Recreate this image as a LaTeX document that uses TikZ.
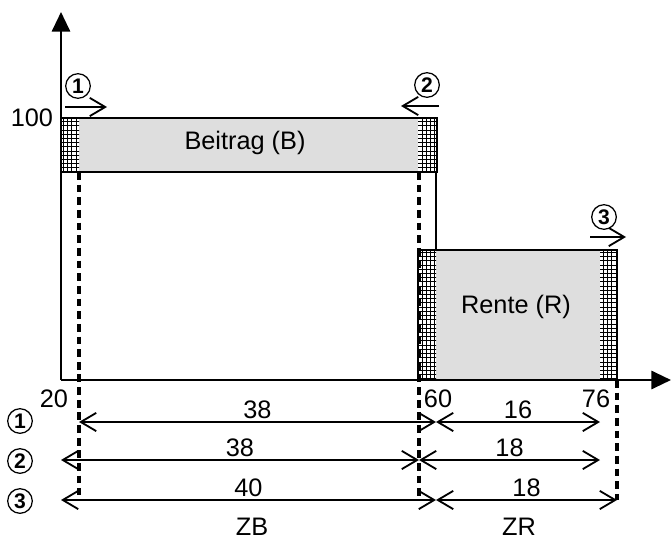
\documentclass[tikz,border=0pt]{standalone}
\usepackage{fontspec}
\setmainfont{Liberation Sans}
\usetikzlibrary{arrows.meta,patterns}

\begin{document}
\begin{tikzpicture}[x=0.025cm,y=-0.025cm,
  >={Straight Barb[length=11pt,width=13pt]},
  box/.style={line width=1.9pt},
  axis/.style={line width=1.6pt,-{Triangle[length=14pt,width=13pt]}},
  dim/.style={<->,line width=1.3pt},
  move/.style={->,line width=1.3pt},
  guide/.style={line width=2.2pt,dash pattern=on 5.5pt off 3.5pt},
  num/.style={circle,draw,line width=0.9pt,inner sep=0pt,minimum size=17.5pt,font=\bfseries\fontsize{15}{15}\selectfont},
  lbl/.style={font=\fontsize{18}{20}\selectfont}]
\useasboundingbox (0,0) rectangle (671,539);
\coordinate (o) at (61,380);
% marks on each dimension row
\foreach \r/\y in {1/422,2/460,3/500}{
  \foreach \n/\x in {a/61,b/79,c/419,d/436,e/600,f/617}
    \coordinate (\n\r) at (\x,\y);
}
% bars
\fill[black!13] (61,118) rectangle (437,172);
\fill[black!13] (418,250) rectangle (617,380);
\foreach \xa/\xb/\ya/\yb in {61/79/118/172,418/436/118/172,418/436/250/380,600/617/250/380}{
  \fill[white] (\xa,\ya) rectangle (\xb,\yb);
  \fill[pattern=grid] (\xa,\ya) rectangle (\xb,\yb);
}
\draw[guide] (79,172) -- (79,495);
\draw[guide] (419,172) -- (419,500);
\draw[guide] (617,380) -- (617,500);
\draw[box] (61,118) rectangle (437,172);
\draw[box] (436,172) -- (436,250);
\draw[box] (418,380) -- (418,250) -- (617,250) -- (617,380);
\node[lbl] (beitrag) at (245,143) {Beitrag (B)};
\node[lbl] (rente) at (516,307) {Rente (R)};
% axes
\draw[axis] (o) -- (61,12);
\draw[axis] (o) -- (671,380);
\node[lbl,anchor=east] (t100) at (58,118) {100};
\node[lbl] (t20) at (54,399) {20};
\node[lbl] (t60) at (438,399) {60};
\node[lbl] (t76) at (596,399) {76};
% shifts
\node[num] (s1) at (78,86) {1};
\node[num] (s2) at (427,85) {2};
\node[num] (s3) at (604,217) {3};
\coordinate (s1a) at (65,107);  \coordinate (s1b) at (107,107);
\coordinate (s2a) at (439,106); \coordinate (s2b) at (401,106);
\coordinate (s3a) at (590,237); \coordinate (s3b) at (626,237);
\draw[move] (s1a) -- (s1b);
\draw[move] (s2a) -- (s2b);
\draw[move] (s3a) -- (s3b);
% dimension rows
\node[num] (r1) at (20,421) {1};
\node[num] (r2) at (20,461) {2};
\node[num] (r3) at (20,501) {3};
\draw[dim] (b1) -- node[lbl,above=-2pt] {38} (d1);
\draw[dim] (d1) -- node[lbl,above=-2pt] {16} (e1);
\draw[dim] (a2) -- node[lbl,above=-2pt] {38} (c2);
\draw[dim] (c2) -- node[lbl,above=-2pt] {18} (e2);
\draw[dim] (a3) -- node[lbl,above=-2pt] {40} (d3);
\draw[dim] (d3) -- node[lbl,above=-2pt] {18} (f3);
\node[lbl,anchor=base,inner sep=0pt] (zb) at (252,535) {ZB};
\node[lbl,anchor=base,inner sep=0pt] (zr) at (519,535) {ZR};
\end{tikzpicture}
\end{document}
